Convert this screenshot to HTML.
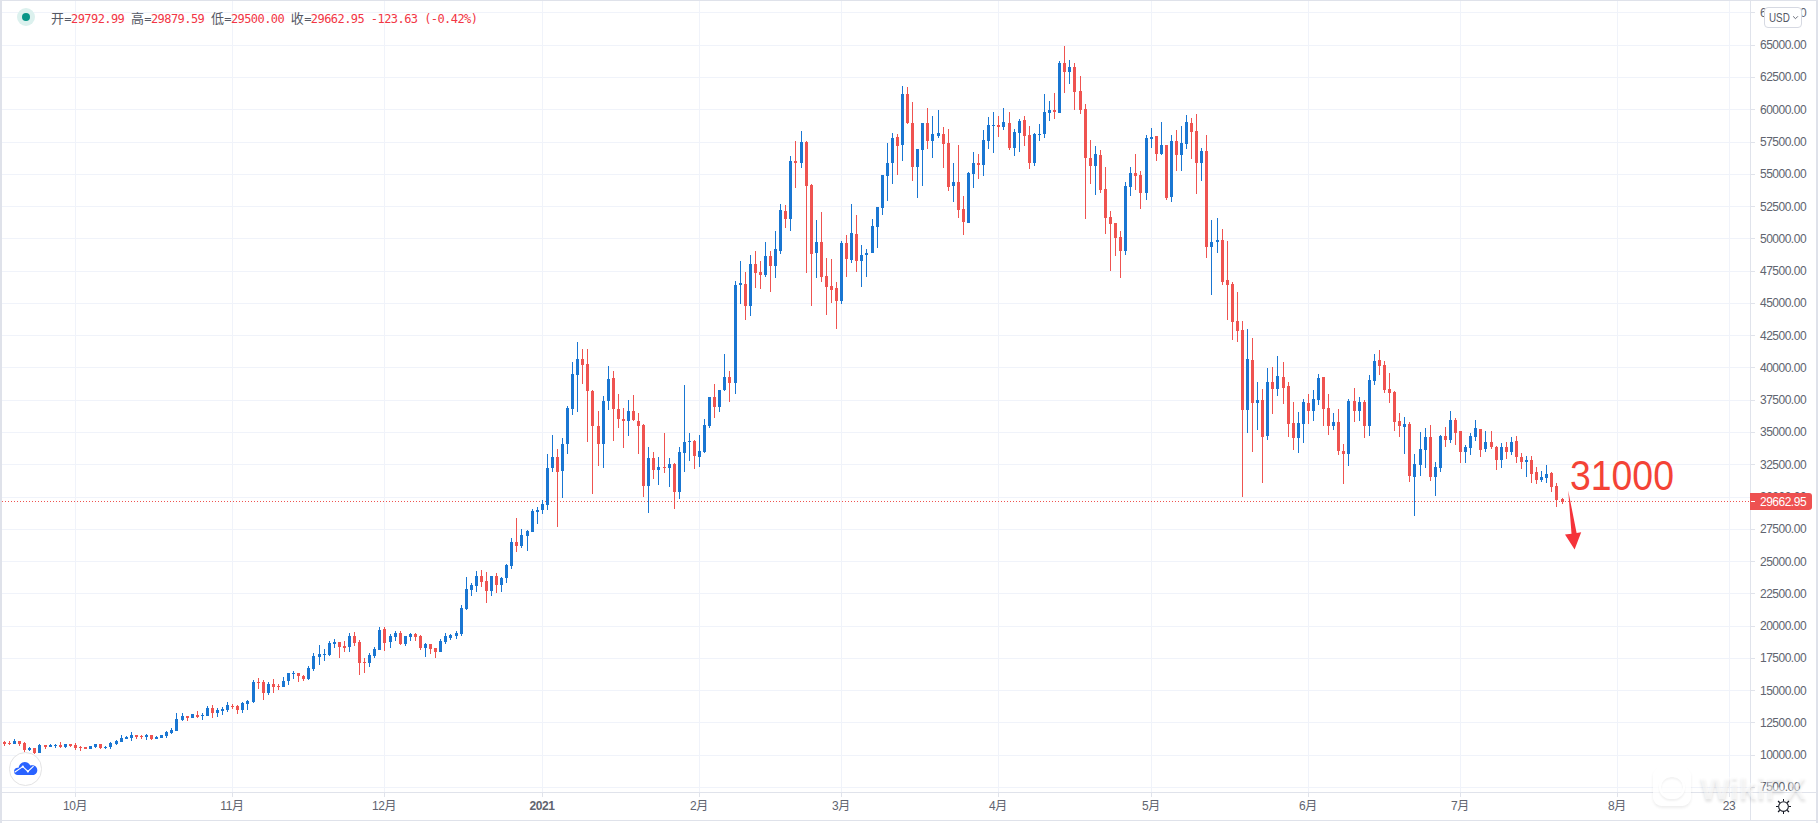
<!DOCTYPE html>
<html lang="zh-CN"><head><meta charset="utf-8"><title>BTCUSD</title>
<style>
html,body{margin:0;padding:0;background:#fff;}
body{width:1818px;height:823px;position:relative;overflow:hidden;font-family:"Liberation Sans","Noto Sans CJK SC",sans-serif;}
#c{position:absolute;left:0;top:0;width:1818px;height:823px;overflow:hidden;background:#fff;}
#c div,#c span,#c svg{position:absolute;}
.h{left:2px;width:1748px;height:1px;background:#f0f3fa;}
.v{top:1px;width:1px;height:791px;background:#f0f3fa;}
.pl{left:1760px;width:56px;height:14px;line-height:14px;font-size:12px;letter-spacing:-0.5px;color:#60646f;white-space:nowrap;}
.pt{left:1751px;width:4px;height:1px;background:#e0e3eb;}
.tl{top:798px;width:60px;height:16px;line-height:16px;font-size:12px;letter-spacing:-0.4px;color:#60646f;text-align:center;white-space:nowrap;}
.tt{top:793px;width:1px;height:4px;background:#e0e3eb;}
#lg i{font-style:normal;font-size:13px;color:#555965;position:static;display:inline-block;width:13.3px;letter-spacing:0;font-family:"Liberation Sans","Noto Sans CJK SC",sans-serif}#lg b{font-weight:normal;color:#555965;position:static}
</style></head><body><div id="c">

<div class="h" style="top:787px"></div>
<div class="h" style="top:755px"></div>
<div class="h" style="top:722px"></div>
<div class="h" style="top:690px"></div>
<div class="h" style="top:658px"></div>
<div class="h" style="top:626px"></div>
<div class="h" style="top:593px"></div>
<div class="h" style="top:561px"></div>
<div class="h" style="top:529px"></div>
<div class="h" style="top:497px"></div>
<div class="h" style="top:464px"></div>
<div class="h" style="top:432px"></div>
<div class="h" style="top:400px"></div>
<div class="h" style="top:367px"></div>
<div class="h" style="top:335px"></div>
<div class="h" style="top:303px"></div>
<div class="h" style="top:271px"></div>
<div class="h" style="top:238px"></div>
<div class="h" style="top:206px"></div>
<div class="h" style="top:174px"></div>
<div class="h" style="top:142px"></div>
<div class="h" style="top:109px"></div>
<div class="h" style="top:77px"></div>
<div class="h" style="top:45px"></div>
<div class="h" style="top:12px"></div>
<div class="v" style="left:75px"></div>
<div class="v" style="left:232px"></div>
<div class="v" style="left:384px"></div>
<div class="v" style="left:542px"></div>
<div class="v" style="left:699px"></div>
<div class="v" style="left:841px"></div>
<div class="v" style="left:998px"></div>
<div class="v" style="left:1151px"></div>
<div class="v" style="left:1308px"></div>
<div class="v" style="left:1460px"></div>
<div class="v" style="left:1617px"></div>
<div class="v" style="left:1729px"></div>
<svg width="1750" height="792" style="left:0;top:0" shape-rendering="crispEdges">
<line x1="2" y1="501.5" x2="1750" y2="501.5" stroke="#ef5350" stroke-width="1" stroke-dasharray="1 2"/>
<g fill="#1976d2">
<rect x="14" y="739" width="1" height="5"/><rect x="13" y="741" width="3" height="3"/>
<rect x="29" y="747" width="1" height="4"/><rect x="28" y="748" width="3" height="2"/>
<rect x="39" y="744" width="1" height="9"/><rect x="38" y="745" width="3" height="8"/>
<rect x="50" y="744" width="1" height="3"/><rect x="49" y="745" width="3" height="2"/>
<rect x="55" y="744" width="1" height="4"/><rect x="54" y="745" width="3" height="1"/>
<rect x="65" y="744" width="1" height="4"/><rect x="64" y="744" width="3" height="3"/>
<rect x="90" y="746" width="1" height="3"/><rect x="89" y="746" width="3" height="3"/>
<rect x="95" y="744" width="1" height="4"/><rect x="94" y="744" width="3" height="3"/>
<rect x="105" y="746" width="1" height="3"/><rect x="104" y="747" width="3" height="1"/>
<rect x="110" y="742" width="1" height="7"/><rect x="109" y="743" width="3" height="4"/>
<rect x="116" y="740" width="1" height="5"/><rect x="115" y="741" width="3" height="3"/>
<rect x="121" y="735" width="1" height="7"/><rect x="120" y="738" width="3" height="4"/>
<rect x="126" y="736" width="1" height="3"/><rect x="125" y="737" width="3" height="2"/>
<rect x="131" y="732" width="1" height="9"/><rect x="130" y="735" width="3" height="3"/>
<rect x="146" y="734" width="1" height="6"/><rect x="145" y="735" width="3" height="2"/>
<rect x="156" y="736" width="1" height="3"/><rect x="155" y="737" width="3" height="2"/>
<rect x="161" y="735" width="1" height="3"/><rect x="160" y="735" width="3" height="3"/>
<rect x="166" y="731" width="1" height="7"/><rect x="165" y="732" width="3" height="4"/>
<rect x="171" y="728" width="1" height="6"/><rect x="170" y="730" width="3" height="3"/>
<rect x="176" y="713" width="1" height="18"/><rect x="175" y="719" width="3" height="12"/>
<rect x="182" y="713" width="1" height="8"/><rect x="181" y="716" width="3" height="4"/>
<rect x="192" y="714" width="1" height="4"/><rect x="191" y="714" width="3" height="4"/>
<rect x="202" y="713" width="1" height="7"/><rect x="201" y="715" width="3" height="1"/>
<rect x="207" y="706" width="1" height="10"/><rect x="206" y="708" width="3" height="8"/>
<rect x="217" y="708" width="1" height="9"/><rect x="216" y="710" width="3" height="3"/>
<rect x="222" y="707" width="1" height="8"/><rect x="221" y="709" width="3" height="2"/>
<rect x="227" y="702" width="1" height="10"/><rect x="226" y="705" width="3" height="5"/>
<rect x="242" y="702" width="1" height="11"/><rect x="241" y="703" width="3" height="7"/>
<rect x="247" y="700" width="1" height="10"/><rect x="246" y="701" width="3" height="3"/>
<rect x="253" y="680" width="1" height="23"/><rect x="252" y="682" width="3" height="20"/>
<rect x="268" y="682" width="1" height="13"/><rect x="267" y="684" width="3" height="9"/>
<rect x="283" y="677" width="1" height="10"/><rect x="282" y="681" width="3" height="6"/>
<rect x="288" y="673" width="1" height="12"/><rect x="287" y="673" width="3" height="8"/>
<rect x="293" y="671" width="1" height="8"/><rect x="292" y="673" width="3" height="1"/>
<rect x="308" y="666" width="1" height="14"/><rect x="307" y="668" width="3" height="11"/>
<rect x="313" y="653" width="1" height="18"/><rect x="312" y="656" width="3" height="13"/>
<rect x="319" y="645" width="1" height="20"/><rect x="318" y="654" width="3" height="3"/>
<rect x="324" y="649" width="1" height="12"/><rect x="323" y="654" width="3" height="1"/>
<rect x="329" y="641" width="1" height="15"/><rect x="328" y="643" width="3" height="12"/>
<rect x="334" y="639" width="1" height="9"/><rect x="333" y="642" width="3" height="2"/>
<rect x="349" y="633" width="1" height="19"/><rect x="348" y="636" width="3" height="11"/>
<rect x="369" y="653" width="1" height="14"/><rect x="368" y="655" width="3" height="8"/>
<rect x="374" y="647" width="1" height="11"/><rect x="373" y="649" width="3" height="7"/>
<rect x="379" y="627" width="1" height="23"/><rect x="378" y="630" width="3" height="20"/>
<rect x="390" y="634" width="1" height="14"/><rect x="389" y="636" width="3" height="6"/>
<rect x="395" y="631" width="1" height="10"/><rect x="394" y="633" width="3" height="4"/>
<rect x="405" y="636" width="1" height="10"/><rect x="404" y="636" width="3" height="8"/>
<rect x="410" y="633" width="1" height="8"/><rect x="409" y="634" width="3" height="3"/>
<rect x="425" y="643" width="1" height="14"/><rect x="424" y="644" width="3" height="4"/>
<rect x="440" y="639" width="1" height="13"/><rect x="439" y="641" width="3" height="11"/>
<rect x="445" y="633" width="1" height="11"/><rect x="444" y="636" width="3" height="6"/>
<rect x="450" y="634" width="1" height="6"/><rect x="449" y="635" width="3" height="3"/>
<rect x="456" y="631" width="1" height="8"/><rect x="455" y="633" width="3" height="3"/>
<rect x="461" y="605" width="1" height="31"/><rect x="460" y="608" width="3" height="26"/>
<rect x="466" y="577" width="1" height="33"/><rect x="465" y="589" width="3" height="20"/>
<rect x="471" y="583" width="1" height="13"/><rect x="470" y="585" width="3" height="5"/>
<rect x="476" y="571" width="1" height="21"/><rect x="475" y="576" width="3" height="10"/>
<rect x="491" y="576" width="1" height="20"/><rect x="490" y="576" width="3" height="15"/>
<rect x="501" y="577" width="1" height="15"/><rect x="500" y="578" width="3" height="7"/>
<rect x="506" y="564" width="1" height="19"/><rect x="505" y="565" width="3" height="13"/>
<rect x="511" y="538" width="1" height="31"/><rect x="510" y="542" width="3" height="24"/>
<rect x="521" y="529" width="1" height="19"/><rect x="520" y="535" width="3" height="11"/>
<rect x="527" y="530" width="1" height="21"/><rect x="526" y="531" width="3" height="5"/>
<rect x="532" y="509" width="1" height="23"/><rect x="531" y="511" width="3" height="21"/>
<rect x="537" y="507" width="1" height="17"/><rect x="536" y="510" width="3" height="2"/>
<rect x="542" y="500" width="1" height="14"/><rect x="541" y="504" width="3" height="6"/>
<rect x="547" y="454" width="1" height="56"/><rect x="546" y="468" width="3" height="37"/>
<rect x="552" y="435" width="1" height="37"/><rect x="551" y="457" width="3" height="11"/>
<rect x="562" y="438" width="1" height="60"/><rect x="561" y="444" width="3" height="27"/>
<rect x="567" y="406" width="1" height="48"/><rect x="566" y="408" width="3" height="36"/>
<rect x="572" y="362" width="1" height="53"/><rect x="571" y="374" width="3" height="35"/>
<rect x="577" y="342" width="1" height="70"/><rect x="576" y="359" width="3" height="16"/>
<rect x="603" y="396" width="1" height="72"/><rect x="602" y="401" width="3" height="43"/>
<rect x="608" y="366" width="1" height="44"/><rect x="607" y="379" width="3" height="22"/>
<rect x="628" y="400" width="1" height="36"/><rect x="627" y="411" width="3" height="10"/>
<rect x="648" y="447" width="1" height="66"/><rect x="647" y="458" width="3" height="28"/>
<rect x="658" y="457" width="1" height="28"/><rect x="657" y="467" width="3" height="3"/>
<rect x="669" y="458" width="1" height="29"/><rect x="668" y="464" width="3" height="4"/>
<rect x="679" y="447" width="1" height="52"/><rect x="678" y="452" width="3" height="40"/>
<rect x="684" y="385" width="1" height="87"/><rect x="683" y="442" width="3" height="11"/>
<rect x="689" y="433" width="1" height="28"/><rect x="688" y="441" width="3" height="1"/>
<rect x="699" y="435" width="1" height="32"/><rect x="698" y="451" width="3" height="6"/>
<rect x="704" y="419" width="1" height="34"/><rect x="703" y="425" width="3" height="27"/>
<rect x="709" y="397" width="1" height="31"/><rect x="708" y="397" width="3" height="29"/>
<rect x="719" y="390" width="1" height="22"/><rect x="718" y="390" width="3" height="17"/>
<rect x="724" y="354" width="1" height="37"/><rect x="723" y="377" width="3" height="13"/>
<rect x="735" y="281" width="1" height="113"/><rect x="734" y="285" width="3" height="98"/>
<rect x="740" y="261" width="1" height="43"/><rect x="739" y="283" width="3" height="2"/>
<rect x="750" y="255" width="1" height="61"/><rect x="749" y="264" width="3" height="42"/>
<rect x="765" y="242" width="1" height="35"/><rect x="764" y="256" width="3" height="19"/>
<rect x="775" y="231" width="1" height="47"/><rect x="774" y="249" width="3" height="17"/>
<rect x="780" y="204" width="1" height="50"/><rect x="779" y="210" width="3" height="41"/>
<rect x="790" y="156" width="1" height="75"/><rect x="789" y="161" width="3" height="58"/>
<rect x="801" y="131" width="1" height="37"/><rect x="800" y="142" width="3" height="21"/>
<rect x="816" y="220" width="1" height="58"/><rect x="815" y="242" width="3" height="11"/>
<rect x="841" y="241" width="1" height="63"/><rect x="840" y="243" width="3" height="58"/>
<rect x="851" y="204" width="1" height="59"/><rect x="850" y="233" width="3" height="27"/>
<rect x="861" y="245" width="1" height="42"/><rect x="860" y="255" width="3" height="6"/>
<rect x="866" y="249" width="1" height="28"/><rect x="865" y="253" width="3" height="2"/>
<rect x="872" y="219" width="1" height="34"/><rect x="871" y="226" width="3" height="27"/>
<rect x="877" y="207" width="1" height="41"/><rect x="876" y="207" width="3" height="20"/>
<rect x="882" y="175" width="1" height="40"/><rect x="881" y="175" width="3" height="33"/>
<rect x="887" y="143" width="1" height="58"/><rect x="886" y="163" width="3" height="13"/>
<rect x="892" y="133" width="1" height="51"/><rect x="891" y="138" width="3" height="25"/>
<rect x="902" y="86" width="1" height="75"/><rect x="901" y="94" width="3" height="51"/>
<rect x="917" y="149" width="1" height="49"/><rect x="916" y="149" width="3" height="18"/>
<rect x="922" y="123" width="1" height="63"/><rect x="921" y="123" width="3" height="27"/>
<rect x="932" y="116" width="1" height="42"/><rect x="931" y="134" width="3" height="7"/>
<rect x="938" y="110" width="1" height="28"/><rect x="937" y="133" width="3" height="3"/>
<rect x="953" y="163" width="1" height="39"/><rect x="952" y="182" width="3" height="4"/>
<rect x="968" y="172" width="1" height="51"/><rect x="967" y="173" width="3" height="50"/>
<rect x="973" y="152" width="1" height="36"/><rect x="972" y="163" width="3" height="11"/>
<rect x="983" y="130" width="1" height="46"/><rect x="982" y="140" width="3" height="25"/>
<rect x="988" y="117" width="1" height="32"/><rect x="987" y="125" width="3" height="16"/>
<rect x="993" y="112" width="1" height="41"/><rect x="992" y="125" width="3" height="1"/>
<rect x="1003" y="108" width="1" height="22"/><rect x="1002" y="122" width="3" height="5"/>
<rect x="1014" y="129" width="1" height="27"/><rect x="1013" y="132" width="3" height="16"/>
<rect x="1019" y="119" width="1" height="33"/><rect x="1018" y="121" width="3" height="12"/>
<rect x="1034" y="133" width="1" height="33"/><rect x="1033" y="134" width="3" height="29"/>
<rect x="1039" y="124" width="1" height="17"/><rect x="1038" y="134" width="3" height="1"/>
<rect x="1044" y="94" width="1" height="44"/><rect x="1043" y="112" width="3" height="22"/>
<rect x="1049" y="101" width="1" height="20"/><rect x="1048" y="110" width="3" height="3"/>
<rect x="1059" y="61" width="1" height="52"/><rect x="1058" y="63" width="3" height="50"/>
<rect x="1069" y="60" width="1" height="24"/><rect x="1068" y="67" width="3" height="5"/>
<rect x="1095" y="146" width="1" height="49"/><rect x="1094" y="154" width="3" height="12"/>
<rect x="1125" y="182" width="1" height="73"/><rect x="1124" y="186" width="3" height="65"/>
<rect x="1130" y="167" width="1" height="29"/><rect x="1129" y="173" width="3" height="14"/>
<rect x="1146" y="135" width="1" height="65"/><rect x="1145" y="138" width="3" height="55"/>
<rect x="1151" y="128" width="1" height="20"/><rect x="1150" y="137" width="3" height="2"/>
<rect x="1161" y="122" width="1" height="33"/><rect x="1160" y="145" width="3" height="9"/>
<rect x="1171" y="135" width="1" height="67"/><rect x="1170" y="141" width="3" height="56"/>
<rect x="1181" y="126" width="1" height="45"/><rect x="1180" y="143" width="3" height="12"/>
<rect x="1186" y="115" width="1" height="34"/><rect x="1185" y="122" width="3" height="22"/>
<rect x="1201" y="148" width="1" height="33"/><rect x="1200" y="151" width="3" height="12"/>
<rect x="1211" y="220" width="1" height="75"/><rect x="1210" y="242" width="3" height="5"/>
<rect x="1217" y="218" width="1" height="35"/><rect x="1216" y="240" width="3" height="2"/>
<rect x="1247" y="329" width="1" height="104"/><rect x="1246" y="359" width="3" height="51"/>
<rect x="1257" y="382" width="1" height="48"/><rect x="1256" y="400" width="3" height="3"/>
<rect x="1267" y="368" width="1" height="72"/><rect x="1266" y="382" width="3" height="54"/>
<rect x="1277" y="356" width="1" height="40"/><rect x="1276" y="376" width="3" height="13"/>
<rect x="1298" y="412" width="1" height="41"/><rect x="1297" y="423" width="3" height="15"/>
<rect x="1303" y="399" width="1" height="44"/><rect x="1302" y="402" width="3" height="22"/>
<rect x="1313" y="390" width="1" height="31"/><rect x="1312" y="399" width="3" height="12"/>
<rect x="1318" y="374" width="1" height="31"/><rect x="1317" y="378" width="3" height="22"/>
<rect x="1333" y="413" width="1" height="17"/><rect x="1332" y="422" width="3" height="4"/>
<rect x="1348" y="399" width="1" height="67"/><rect x="1347" y="401" width="3" height="53"/>
<rect x="1359" y="397" width="1" height="24"/><rect x="1358" y="402" width="3" height="9"/>
<rect x="1369" y="375" width="1" height="61"/><rect x="1368" y="380" width="3" height="46"/>
<rect x="1374" y="354" width="1" height="31"/><rect x="1373" y="361" width="3" height="20"/>
<rect x="1404" y="417" width="1" height="37"/><rect x="1403" y="424" width="3" height="3"/>
<rect x="1414" y="454" width="1" height="62"/><rect x="1413" y="464" width="3" height="13"/>
<rect x="1420" y="432" width="1" height="44"/><rect x="1419" y="449" width="3" height="16"/>
<rect x="1425" y="428" width="1" height="40"/><rect x="1424" y="437" width="3" height="13"/>
<rect x="1435" y="462" width="1" height="34"/><rect x="1434" y="467" width="3" height="10"/>
<rect x="1440" y="435" width="1" height="37"/><rect x="1439" y="436" width="3" height="32"/>
<rect x="1450" y="411" width="1" height="32"/><rect x="1449" y="420" width="3" height="20"/>
<rect x="1465" y="445" width="1" height="18"/><rect x="1464" y="447" width="3" height="5"/>
<rect x="1470" y="433" width="1" height="22"/><rect x="1469" y="436" width="3" height="12"/>
<rect x="1475" y="420" width="1" height="21"/><rect x="1474" y="428" width="3" height="9"/>
<rect x="1485" y="431" width="1" height="21"/><rect x="1484" y="442" width="3" height="7"/>
<rect x="1501" y="443" width="1" height="25"/><rect x="1500" y="447" width="3" height="13"/>
<rect x="1511" y="437" width="1" height="18"/><rect x="1510" y="442" width="3" height="10"/>
<rect x="1526" y="456" width="1" height="21"/><rect x="1525" y="460" width="3" height="2"/>
<rect x="1541" y="471" width="1" height="11"/><rect x="1540" y="477" width="3" height="3"/>
<rect x="1546" y="465" width="1" height="18"/><rect x="1545" y="474" width="3" height="4"/>
</g>
<g fill="#ef5350">
<rect x="4" y="741" width="1" height="5"/><rect x="3" y="742" width="3" height="2"/>
<rect x="9" y="741" width="1" height="4"/><rect x="8" y="743" width="3" height="1"/>
<rect x="19" y="741" width="1" height="5"/><rect x="18" y="741" width="3" height="3"/>
<rect x="24" y="742" width="1" height="10"/><rect x="23" y="743" width="3" height="7"/>
<rect x="34" y="748" width="1" height="6"/><rect x="33" y="748" width="3" height="5"/>
<rect x="45" y="745" width="1" height="4"/><rect x="44" y="745" width="3" height="2"/>
<rect x="60" y="742" width="1" height="6"/><rect x="59" y="745" width="3" height="2"/>
<rect x="70" y="744" width="1" height="3"/><rect x="69" y="744" width="3" height="2"/>
<rect x="75" y="743" width="1" height="7"/><rect x="74" y="745" width="3" height="3"/>
<rect x="80" y="746" width="1" height="5"/><rect x="79" y="747" width="3" height="1"/>
<rect x="85" y="747" width="1" height="2"/><rect x="84" y="747" width="3" height="2"/>
<rect x="100" y="744" width="1" height="5"/><rect x="99" y="744" width="3" height="4"/>
<rect x="136" y="735" width="1" height="4"/><rect x="135" y="735" width="3" height="2"/>
<rect x="141" y="735" width="1" height="4"/><rect x="140" y="736" width="3" height="1"/>
<rect x="151" y="735" width="1" height="5"/><rect x="150" y="735" width="3" height="4"/>
<rect x="187" y="716" width="1" height="5"/><rect x="186" y="716" width="3" height="2"/>
<rect x="197" y="711" width="1" height="7"/><rect x="196" y="715" width="3" height="2"/>
<rect x="212" y="705" width="1" height="13"/><rect x="211" y="708" width="3" height="5"/>
<rect x="232" y="704" width="1" height="5"/><rect x="231" y="706" width="3" height="1"/>
<rect x="237" y="705" width="1" height="9"/><rect x="236" y="706" width="3" height="4"/>
<rect x="258" y="678" width="1" height="11"/><rect x="257" y="682" width="3" height="1"/>
<rect x="263" y="680" width="1" height="20"/><rect x="262" y="682" width="3" height="11"/>
<rect x="273" y="679" width="1" height="14"/><rect x="272" y="684" width="3" height="3"/>
<rect x="278" y="684" width="1" height="6"/><rect x="277" y="686" width="3" height="1"/>
<rect x="298" y="673" width="1" height="9"/><rect x="297" y="673" width="3" height="3"/>
<rect x="303" y="675" width="1" height="6"/><rect x="302" y="676" width="3" height="3"/>
<rect x="339" y="642" width="1" height="16"/><rect x="338" y="642" width="3" height="5"/>
<rect x="344" y="641" width="1" height="11"/><rect x="343" y="646" width="3" height="2"/>
<rect x="354" y="632" width="1" height="14"/><rect x="353" y="636" width="3" height="7"/>
<rect x="359" y="640" width="1" height="35"/><rect x="358" y="642" width="3" height="21"/>
<rect x="364" y="658" width="1" height="15"/><rect x="363" y="662" width="3" height="1"/>
<rect x="384" y="627" width="1" height="24"/><rect x="383" y="629" width="3" height="14"/>
<rect x="400" y="631" width="1" height="14"/><rect x="399" y="633" width="3" height="11"/>
<rect x="415" y="633" width="1" height="8"/><rect x="414" y="634" width="3" height="3"/>
<rect x="420" y="635" width="1" height="15"/><rect x="419" y="636" width="3" height="12"/>
<rect x="430" y="644" width="1" height="10"/><rect x="429" y="644" width="3" height="5"/>
<rect x="435" y="648" width="1" height="10"/><rect x="434" y="648" width="3" height="4"/>
<rect x="481" y="570" width="1" height="17"/><rect x="480" y="576" width="3" height="6"/>
<rect x="486" y="572" width="1" height="31"/><rect x="485" y="581" width="3" height="10"/>
<rect x="496" y="573" width="1" height="20"/><rect x="495" y="576" width="3" height="9"/>
<rect x="516" y="518" width="1" height="34"/><rect x="515" y="542" width="3" height="4"/>
<rect x="557" y="449" width="1" height="78"/><rect x="556" y="457" width="3" height="15"/>
<rect x="582" y="349" width="1" height="35"/><rect x="581" y="359" width="3" height="6"/>
<rect x="587" y="349" width="1" height="93"/><rect x="586" y="364" width="3" height="27"/>
<rect x="592" y="390" width="1" height="104"/><rect x="591" y="391" width="3" height="35"/>
<rect x="598" y="411" width="1" height="55"/><rect x="597" y="426" width="3" height="18"/>
<rect x="613" y="371" width="1" height="70"/><rect x="612" y="378" width="3" height="31"/>
<rect x="618" y="394" width="1" height="34"/><rect x="617" y="409" width="3" height="10"/>
<rect x="623" y="408" width="1" height="40"/><rect x="622" y="419" width="3" height="2"/>
<rect x="633" y="395" width="1" height="26"/><rect x="632" y="411" width="3" height="9"/>
<rect x="638" y="413" width="1" height="41"/><rect x="637" y="421" width="3" height="5"/>
<rect x="643" y="424" width="1" height="73"/><rect x="642" y="425" width="3" height="61"/>
<rect x="653" y="452" width="1" height="27"/><rect x="652" y="458" width="3" height="12"/>
<rect x="664" y="433" width="1" height="40"/><rect x="663" y="467" width="3" height="1"/>
<rect x="674" y="463" width="1" height="46"/><rect x="673" y="464" width="3" height="28"/>
<rect x="694" y="440" width="1" height="29"/><rect x="693" y="441" width="3" height="15"/>
<rect x="714" y="384" width="1" height="34"/><rect x="713" y="397" width="3" height="10"/>
<rect x="729" y="371" width="1" height="31"/><rect x="728" y="377" width="3" height="6"/>
<rect x="745" y="272" width="1" height="48"/><rect x="744" y="284" width="3" height="22"/>
<rect x="755" y="251" width="1" height="37"/><rect x="754" y="264" width="3" height="9"/>
<rect x="760" y="261" width="1" height="28"/><rect x="759" y="272" width="3" height="3"/>
<rect x="770" y="251" width="1" height="41"/><rect x="769" y="256" width="3" height="10"/>
<rect x="785" y="205" width="1" height="23"/><rect x="784" y="211" width="3" height="8"/>
<rect x="795" y="141" width="1" height="47"/><rect x="794" y="161" width="3" height="2"/>
<rect x="806" y="141" width="1" height="132"/><rect x="805" y="142" width="3" height="44"/>
<rect x="811" y="184" width="1" height="122"/><rect x="810" y="185" width="3" height="69"/>
<rect x="821" y="212" width="1" height="70"/><rect x="820" y="242" width="3" height="35"/>
<rect x="826" y="258" width="1" height="57"/><rect x="825" y="276" width="3" height="11"/>
<rect x="831" y="259" width="1" height="44"/><rect x="830" y="286" width="3" height="4"/>
<rect x="836" y="282" width="1" height="47"/><rect x="835" y="288" width="3" height="13"/>
<rect x="846" y="235" width="1" height="42"/><rect x="845" y="243" width="3" height="16"/>
<rect x="856" y="215" width="1" height="57"/><rect x="855" y="234" width="3" height="27"/>
<rect x="897" y="134" width="1" height="41"/><rect x="896" y="137" width="3" height="9"/>
<rect x="907" y="87" width="1" height="37"/><rect x="906" y="94" width="3" height="29"/>
<rect x="912" y="102" width="1" height="79"/><rect x="911" y="123" width="3" height="44"/>
<rect x="927" y="108" width="1" height="41"/><rect x="926" y="123" width="3" height="18"/>
<rect x="943" y="127" width="1" height="41"/><rect x="942" y="134" width="3" height="10"/>
<rect x="948" y="129" width="1" height="62"/><rect x="947" y="143" width="3" height="44"/>
<rect x="958" y="145" width="1" height="73"/><rect x="957" y="182" width="3" height="28"/>
<rect x="963" y="196" width="1" height="39"/><rect x="962" y="209" width="3" height="13"/>
<rect x="978" y="154" width="1" height="25"/><rect x="977" y="163" width="3" height="2"/>
<rect x="998" y="116" width="1" height="21"/><rect x="997" y="125" width="3" height="2"/>
<rect x="1009" y="112" width="1" height="38"/><rect x="1008" y="123" width="3" height="25"/>
<rect x="1024" y="116" width="1" height="30"/><rect x="1023" y="120" width="3" height="16"/>
<rect x="1029" y="126" width="1" height="43"/><rect x="1028" y="135" width="3" height="28"/>
<rect x="1054" y="93" width="1" height="26"/><rect x="1053" y="110" width="3" height="2"/>
<rect x="1064" y="46" width="1" height="47"/><rect x="1063" y="63" width="3" height="9"/>
<rect x="1074" y="63" width="1" height="47"/><rect x="1073" y="67" width="3" height="25"/>
<rect x="1080" y="76" width="1" height="38"/><rect x="1079" y="91" width="3" height="19"/>
<rect x="1085" y="104" width="1" height="115"/><rect x="1084" y="109" width="3" height="49"/>
<rect x="1090" y="140" width="1" height="44"/><rect x="1089" y="158" width="3" height="8"/>
<rect x="1100" y="150" width="1" height="43"/><rect x="1099" y="155" width="3" height="35"/>
<rect x="1105" y="167" width="1" height="67"/><rect x="1104" y="189" width="3" height="29"/>
<rect x="1110" y="211" width="1" height="60"/><rect x="1109" y="217" width="3" height="7"/>
<rect x="1115" y="223" width="1" height="33"/><rect x="1114" y="223" width="3" height="15"/>
<rect x="1120" y="231" width="1" height="47"/><rect x="1119" y="237" width="3" height="14"/>
<rect x="1135" y="154" width="1" height="36"/><rect x="1134" y="173" width="3" height="3"/>
<rect x="1140" y="171" width="1" height="38"/><rect x="1139" y="175" width="3" height="18"/>
<rect x="1156" y="136" width="1" height="25"/><rect x="1155" y="136" width="3" height="18"/>
<rect x="1166" y="145" width="1" height="55"/><rect x="1165" y="145" width="3" height="53"/>
<rect x="1176" y="130" width="1" height="41"/><rect x="1175" y="141" width="3" height="14"/>
<rect x="1191" y="118" width="1" height="41"/><rect x="1190" y="123" width="3" height="9"/>
<rect x="1196" y="114" width="1" height="80"/><rect x="1195" y="131" width="3" height="32"/>
<rect x="1206" y="135" width="1" height="123"/><rect x="1205" y="151" width="3" height="96"/>
<rect x="1222" y="229" width="1" height="56"/><rect x="1221" y="240" width="3" height="42"/>
<rect x="1227" y="241" width="1" height="79"/><rect x="1226" y="280" width="3" height="5"/>
<rect x="1232" y="282" width="1" height="58"/><rect x="1231" y="284" width="3" height="38"/>
<rect x="1237" y="292" width="1" height="50"/><rect x="1236" y="321" width="3" height="10"/>
<rect x="1242" y="321" width="1" height="176"/><rect x="1241" y="330" width="3" height="80"/>
<rect x="1252" y="338" width="1" height="114"/><rect x="1251" y="360" width="3" height="43"/>
<rect x="1262" y="389" width="1" height="94"/><rect x="1261" y="400" width="3" height="37"/>
<rect x="1272" y="367" width="1" height="47"/><rect x="1271" y="382" width="3" height="7"/>
<rect x="1283" y="362" width="1" height="42"/><rect x="1282" y="377" width="3" height="11"/>
<rect x="1288" y="382" width="1" height="55"/><rect x="1287" y="386" width="3" height="38"/>
<rect x="1293" y="402" width="1" height="48"/><rect x="1292" y="423" width="3" height="15"/>
<rect x="1308" y="394" width="1" height="30"/><rect x="1307" y="403" width="3" height="8"/>
<rect x="1323" y="377" width="1" height="49"/><rect x="1322" y="377" width="3" height="32"/>
<rect x="1328" y="394" width="1" height="41"/><rect x="1327" y="408" width="3" height="18"/>
<rect x="1338" y="409" width="1" height="46"/><rect x="1337" y="422" width="3" height="29"/>
<rect x="1343" y="444" width="1" height="40"/><rect x="1342" y="451" width="3" height="3"/>
<rect x="1354" y="388" width="1" height="34"/><rect x="1353" y="401" width="3" height="10"/>
<rect x="1364" y="400" width="1" height="38"/><rect x="1363" y="402" width="3" height="24"/>
<rect x="1379" y="350" width="1" height="25"/><rect x="1378" y="360" width="3" height="6"/>
<rect x="1384" y="361" width="1" height="32"/><rect x="1383" y="365" width="3" height="25"/>
<rect x="1389" y="373" width="1" height="30"/><rect x="1388" y="389" width="3" height="4"/>
<rect x="1394" y="391" width="1" height="40"/><rect x="1393" y="392" width="3" height="30"/>
<rect x="1399" y="413" width="1" height="24"/><rect x="1398" y="421" width="3" height="5"/>
<rect x="1409" y="422" width="1" height="60"/><rect x="1408" y="424" width="3" height="52"/>
<rect x="1430" y="425" width="1" height="56"/><rect x="1429" y="437" width="3" height="40"/>
<rect x="1445" y="427" width="1" height="20"/><rect x="1444" y="436" width="3" height="4"/>
<rect x="1455" y="418" width="1" height="27"/><rect x="1454" y="420" width="3" height="13"/>
<rect x="1460" y="431" width="1" height="32"/><rect x="1459" y="431" width="3" height="21"/>
<rect x="1480" y="429" width="1" height="28"/><rect x="1479" y="429" width="3" height="21"/>
<rect x="1491" y="431" width="1" height="18"/><rect x="1490" y="442" width="3" height="5"/>
<rect x="1496" y="446" width="1" height="24"/><rect x="1495" y="447" width="3" height="13"/>
<rect x="1506" y="442" width="1" height="17"/><rect x="1505" y="447" width="3" height="5"/>
<rect x="1516" y="436" width="1" height="27"/><rect x="1515" y="441" width="3" height="16"/>
<rect x="1521" y="453" width="1" height="16"/><rect x="1520" y="457" width="3" height="5"/>
<rect x="1531" y="456" width="1" height="27"/><rect x="1530" y="460" width="3" height="14"/>
<rect x="1536" y="467" width="1" height="17"/><rect x="1535" y="472" width="3" height="8"/>
<rect x="1551" y="472" width="1" height="20"/><rect x="1550" y="473" width="3" height="14"/>
<rect x="1556" y="483" width="1" height="24"/><rect x="1555" y="486" width="3" height="14"/>
<rect x="1562" y="498" width="1" height="6"/><rect x="1561" y="499" width="3" height="3"/>
</g>
</svg>
<div style="left:1750px;top:1px;width:1px;height:819px;background:#e0e3eb"></div>
<div style="left:2px;top:792px;width:1814px;height:1px;background:#e0e3eb"></div>
<div class="pt" style="top:787px"></div>
<div class="pl" style="top:780px">7500.00</div>
<div class="pt" style="top:755px"></div>
<div class="pl" style="top:748px">10000.00</div>
<div class="pt" style="top:722px"></div>
<div class="pl" style="top:716px">12500.00</div>
<div class="pt" style="top:690px"></div>
<div class="pl" style="top:684px">15000.00</div>
<div class="pt" style="top:658px"></div>
<div class="pl" style="top:651px">17500.00</div>
<div class="pt" style="top:626px"></div>
<div class="pl" style="top:619px">20000.00</div>
<div class="pt" style="top:593px"></div>
<div class="pl" style="top:587px">22500.00</div>
<div class="pt" style="top:561px"></div>
<div class="pl" style="top:555px">25000.00</div>
<div class="pt" style="top:529px"></div>
<div class="pl" style="top:522px">27500.00</div>
<div class="pt" style="top:497px"></div>
<div class="pl" style="top:490px">30000.00</div>
<div class="pt" style="top:464px"></div>
<div class="pl" style="top:458px">32500.00</div>
<div class="pt" style="top:432px"></div>
<div class="pl" style="top:425px">35000.00</div>
<div class="pt" style="top:400px"></div>
<div class="pl" style="top:393px">37500.00</div>
<div class="pt" style="top:367px"></div>
<div class="pl" style="top:361px">40000.00</div>
<div class="pt" style="top:335px"></div>
<div class="pl" style="top:329px">42500.00</div>
<div class="pt" style="top:303px"></div>
<div class="pl" style="top:296px">45000.00</div>
<div class="pt" style="top:271px"></div>
<div class="pl" style="top:264px">47500.00</div>
<div class="pt" style="top:238px"></div>
<div class="pl" style="top:232px">50000.00</div>
<div class="pt" style="top:206px"></div>
<div class="pl" style="top:200px">52500.00</div>
<div class="pt" style="top:174px"></div>
<div class="pl" style="top:167px">55000.00</div>
<div class="pt" style="top:142px"></div>
<div class="pl" style="top:135px">57500.00</div>
<div class="pt" style="top:109px"></div>
<div class="pl" style="top:103px">60000.00</div>
<div class="pt" style="top:77px"></div>
<div class="pl" style="top:70px">62500.00</div>
<div class="pt" style="top:45px"></div>
<div class="pl" style="top:38px">65000.00</div>
<div class="pt" style="top:12px"></div>
<div class="pl" style="top:6px">67500.00</div>
<div class="tt" style="left:75px"></div>
<div class="tl" style="left:45px">10月</div>
<div class="tt" style="left:232px"></div>
<div class="tl" style="left:202px">11月</div>
<div class="tt" style="left:384px"></div>
<div class="tl" style="left:354px">12月</div>
<div class="tt" style="left:542px"></div>
<div class="tl" style="left:512px;font-weight:bold">2021</div>
<div class="tt" style="left:699px"></div>
<div class="tl" style="left:669px">2月</div>
<div class="tt" style="left:841px"></div>
<div class="tl" style="left:811px">3月</div>
<div class="tt" style="left:998px"></div>
<div class="tl" style="left:968px">4月</div>
<div class="tt" style="left:1151px"></div>
<div class="tl" style="left:1121px">5月</div>
<div class="tt" style="left:1308px"></div>
<div class="tl" style="left:1278px">6月</div>
<div class="tt" style="left:1460px"></div>
<div class="tl" style="left:1430px">7月</div>
<div class="tt" style="left:1617px"></div>
<div class="tl" style="left:1587px">8月</div>
<div class="tt" style="left:1729px"></div>
<div class="tl" style="left:1699px">23</div>
<div style="left:1750px;top:493px;width:62px;height:17px;background:#ee5151;border-radius:0 3px 3px 0"></div>
<div style="left:1751px;top:501px;width:4px;height:1px;background:#fff"></div>
<div class="pl" style="top:494.6px;color:#fff">29662.95</div>
<div style="left:1764px;top:7px;width:36px;height:19px;background:#fff;border:1px solid #d6d9e2;border-radius:4px"></div>
<div style="left:1769px;top:11px;height:14px;line-height:14px;font-size:12px;color:#555965;transform:scaleX(0.82);transform-origin:0 0">USD</div>
<svg width="8" height="6" style="left:1792px;top:15px" viewBox="0 0 8 6"><path d="M1.1 1.3 L3.5 3.7 L5.9 1.3" fill="none" stroke="#6a6e7a" stroke-width="1"/></svg>
<div style="left:17px;top:8px;width:18px;height:18px;border-radius:9px;background:#dcf1ee"></div>
<div style="left:22px;top:13px;width:8px;height:8px;border-radius:4px;background:#089688"></div>
<div id="lg" style="left:51px;top:10px;height:18px;line-height:18px;font-size:12px;white-space:nowrap;font-family:'DejaVu Sans Mono','Liberation Mono','Noto Sans CJK SC',monospace;color:#f23645;letter-spacing:-0.56px"><i>开</i><b>=</b>29792.99 <i>高</i><b>=</b>29879.59 <i>低</i><b>=</b>29500.00 <i>收</i><b>=</b>29662.95 -123.63 (-0.42%)</div>
<div id="ann" style="left:1570px;top:452px;height:48px;line-height:48px;font-size:42px;color:#f44336;white-space:nowrap;transform:scaleX(0.89);transform-origin:0 0">31000</div>
<svg width="30" height="70" style="left:1560px;top:485px" viewBox="1560 485 30 70"><path d="M1568.2 490.5 L1571.5 533.8 L1565 534.6 L1574.6 549.5 L1581.2 532.2 L1576.6 533 Z" fill="#f5333a"/></svg>
<div style="left:9px;top:752px;width:31px;height:32px;border-radius:17px;background:#fff;border:1px solid #e3e3e4"></div>
<svg width="26" height="16" style="left:13px;top:761px" viewBox="0 0 26 16"><path d="M4.8 14 C2.4 14 1 12.4 1 10.4 C1 8.3 2.6 6.7 4.7 6.7 C5 6.7 5.3 6.7 5.6 6.8 C6.2 3.5 8.6 1 11.8 1 C14.3 1 16.2 2.4 17.2 4.6 C17.9 4.3 18.6 4.2 19.3 4.2 C22.3 4.2 24.3 6.4 24.3 9.2 C24.3 12 22.2 14 19.6 14 Z" fill="#2962ff"/><path d="M1.6 11.2 L9.8 5.6 L14.9 10.5 L20.6 5.2" fill="none" stroke="#fff" stroke-width="1.1"/><circle cx="9.8" cy="5.7" r="1.1" fill="#fff"/><circle cx="14.9" cy="10.4" r="1.1" fill="#fff"/></svg>
<svg width="21" height="21" style="left:1773px;top:796px" viewBox="0 0 21 21"><g transform="translate(10.5 10.5)" stroke="#131722" fill="none"><circle cx="0" cy="0" r="4.85" stroke-width="1.05"/><line x1="5.30" y1="0.00" x2="7.50" y2="0.00" stroke-width="1"/><line x1="3.75" y1="3.75" x2="5.44" y2="5.44" stroke-width="1.25"/><line x1="0.00" y1="5.30" x2="0.00" y2="7.50" stroke-width="1"/><line x1="-3.75" y1="3.75" x2="-5.44" y2="5.44" stroke-width="1.25"/><line x1="-5.30" y1="0.00" x2="-7.50" y2="0.00" stroke-width="1"/><line x1="-3.75" y1="-3.75" x2="-5.44" y2="-5.44" stroke-width="1.25"/><line x1="-0.00" y1="-5.30" x2="-0.00" y2="-7.50" stroke-width="1"/><line x1="3.75" y1="-3.75" x2="5.44" y2="-5.44" stroke-width="1.25"/></g></svg>
<div style="left:1653px;top:767px;width:38px;height:39px;border-radius:9px;background:rgba(255,255,255,0.7);box-shadow:0 2px 3px rgba(0,0,0,0.07)"></div>
<div style="left:1659px;top:775px;width:22px;height:20px;border-radius:12px;border:2px solid rgba(255,255,255,0.8);box-shadow:0 2px 2px rgba(0,0,0,0.06), inset 0 2px 2px rgba(0,0,0,0.05)"></div>
<div style="left:1700px;top:770px;height:36px;line-height:36px;font-size:32px;font-weight:bold;color:rgba(255,255,255,0.5);text-shadow:0 3px 3px rgba(0,0,0,0.10)">WikiFX</div>
<div style="left:0;top:0;width:1818px;height:1px;background:#dfe2ea"></div>
<div style="left:0;top:0;width:2px;height:823px;background:#dfe2ea"></div>
<div style="left:1816px;top:0;width:2px;height:823px;background:#dfe2ea"></div>
<div style="left:0;top:820px;width:1818px;height:1px;background:#dfe2ea"></div>
</div></body></html>
